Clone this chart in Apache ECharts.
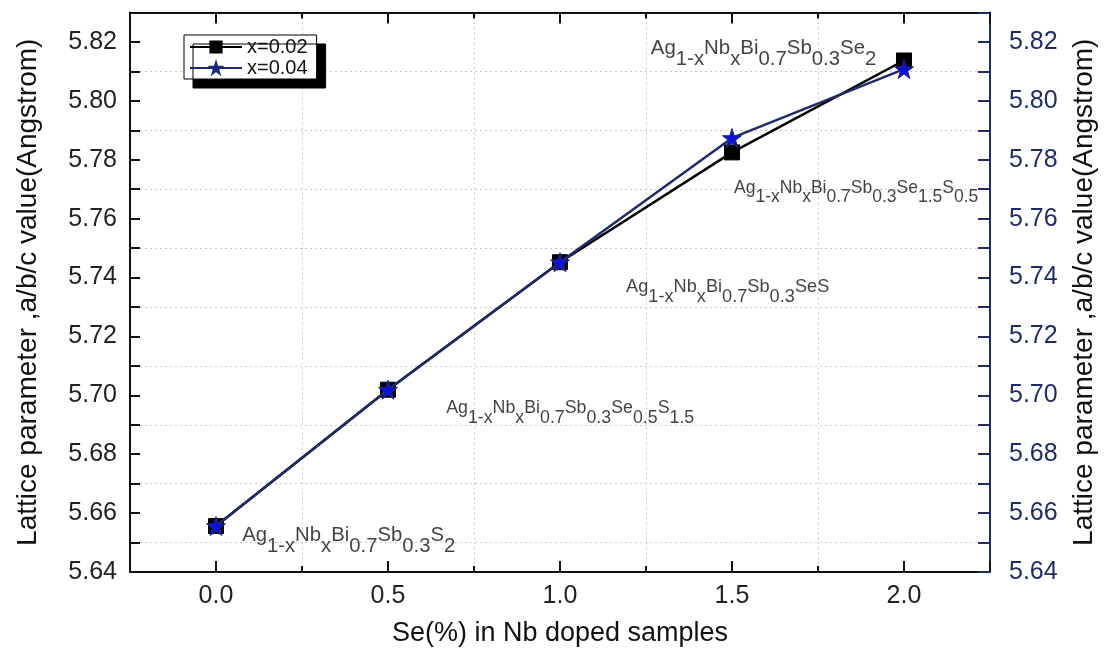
<!DOCTYPE html>
<html>
<head>
<meta charset="utf-8">
<script src="https://cdn.jsdelivr.net/npm/echarts@6/dist/echarts.min.js"></script>
<style>
html,body{margin:0;padding:0;background:#fff;}
#chart{width:1106px;height:652px;}
</style>
</head>
<body>
<div id="chart"></div>
<script>
// ---- data ----
const xValues = [0.0, 0.5, 1.0, 1.5, 2.0];
const seriesNames = ['x=0.02', 'x=0.04'];
const latticeX002 = [5.6556, 5.7019, 5.7452, 5.7825, 5.8137];
const latticeX004 = [5.6556, 5.7019, 5.7452, 5.7874, 5.8108];
const annotationFormulas = [
  'Ag_{1-x}Nb_{x}Bi_{0.7}Sb_{0.3}S_{2}',
  'Ag_{1-x}Nb_{x}Bi_{0.7}Sb_{0.3}Se_{0.5}S_{1.5}',
  'Ag_{1-x}Nb_{x}Bi_{0.7}Sb_{0.3}SeS',
  'Ag_{1-x}Nb_{x}Bi_{0.7}Sb_{0.3}Se_{1.5}S_{0.5}',
  'Ag_{1-x}Nb_{x}Bi_{0.7}Sb_{0.3}Se_{2}'
];
const annotationX = [0.076, 0.669, 1.192, 1.506, 1.264];
const annotationY = [5.6524, 5.6957, 5.7366, 5.7705, 5.8179];
const xAxisTitle = 'Se(%) in Nb doped samples';
const yAxisTitle = 'Lattice parameter ,a/b/c value(Angstrom)';

// ---- styles ----
const annotationFontSize = [20.3, 17.8, 18.2, 17.5, 20.4];
const navy = '#1f2a6b';
const starPath = 'path://M100,0 L122.45,69.1 L195.1,69.1 L136.3,111.8 L158.8,180.9 L100,138.2 L41.2,180.9 L63.7,111.8 L4.9,69.1 L77.55,69.1 Z';
const font = 'Liberation Sans, Arial, sans-serif';
const gridColor = '#c9c9c9';

function toRich(f, idx) {
  let out = '';
  const parts = f.split(/(_\{[^}]*\})/).filter(s => s.length);
  parts.forEach(p => {
    if (p.startsWith('_{')) out += '{s' + idx + '|' + p.slice(2, -1) + '}';
    else out += '{e' + idx + '|' + p + '}';
  });
  return out;
}
const rich = {};
annotationFontSize.forEach((fs, i) => {
  const off = Math.round(fs * 0.54);
  rich['e' + i] = {fontFamily: font, fontSize: fs, lineHeight: fs, color: '#111', verticalAlign: 'top'};
  rich['s' + i] = {fontFamily: font, fontSize: fs, lineHeight: fs, color: '#111', verticalAlign: 'top', padding: [off, 0, 0, 0]};
});

const chart = echarts.init(document.getElementById('chart'), null, {renderer: 'canvas'});

const xMin = -0.25, xMax = 2.25;
const yMin = 5.64, yMax = 5.83;

function xLabelFmt(v) {
  const q = Math.round(v * 4);
  if (q % 2 === 0 && v >= -1e-9 && v <= 2 + 1e-9) return v.toFixed(1);
  return '';
}
function yLabelFmt(v) {
  const h = Math.round(v * 100);
  return h % 2 === 0 ? v.toFixed(2) : '';
}
const dotted = {color: gridColor, type: [2, 3], width: 1};

const option = {
  backgroundColor: '#ffffff',
  animation: false,
  grid: {left: 130, right: 114, top: 12.5, bottom: 78, containLabel: false},
  legend: {
    data: seriesNames,
    orient: 'vertical',
    left: 184, top: 35,
    padding: [2, 9, 1, 5],
    itemGap: 1,
    itemWidth: 52, itemHeight: 14,
    backgroundColor: '#ffffff',
    borderColor: '#000', borderWidth: 1,
    shadowColor: '#000', shadowBlur: 0, shadowOffsetX: 9, shadowOffsetY: 9,
    textStyle: {fontFamily: font, fontSize: 20, lineHeight: 20, color: '#111'}
  },
  xAxis: [
    {
      type: 'value', position: 'bottom', min: xMin, max: xMax, splitNumber: 5,
      name: xAxisTitle, nameLocation: 'middle', nameGap: 48,
      nameTextStyle: {fontFamily: font, fontSize: 27, color: '#111'},
      axisLine: {show: true, onZero: false, lineStyle: {color: '#111', width: 2}},
      axisTick: {show: true, inside: true, length: 11, lineStyle: {color: '#111', width: 2}},
      minorTick: {show: true, splitNumber: 2, length: 6, lineStyle: {color: '#111', width: 2}},
      axisLabel: {show: true, margin: 12, formatter: xLabelFmt, fontFamily: font, fontSize: 25, color: '#222'},
      splitLine: {show: false},
      minorSplitLine: {show: true, lineStyle: dotted}
    },
    {
      type: 'value', position: 'top', min: xMin, max: xMax, splitNumber: 5,
      axisLine: {show: true, onZero: false, lineStyle: {color: '#111', width: 2}},
      axisTick: {show: true, inside: true, length: 11, lineStyle: {color: '#111', width: 2}},
      minorTick: {show: true, splitNumber: 2, length: 6, lineStyle: {color: '#111', width: 2}},
      axisLabel: {show: false}, splitLine: {show: false}
    }
  ],
  yAxis: [
    {
      type: 'value', position: 'left', min: yMin, max: yMax, splitNumber: 10,
      name: yAxisTitle, nameLocation: 'middle', nameGap: 88, nameRotate: 90,
      nameTextStyle: {fontFamily: font, fontSize: 28, color: '#111'},
      axisLine: {show: true, onZero: false, lineStyle: {color: '#111', width: 2}},
      axisTick: {show: true, inside: true, length: 10, lineStyle: {color: '#111', width: 2}},
      minorTick: {show: true, splitNumber: 2, length: 10, lineStyle: {color: '#111', width: 2}},
      axisLabel: {show: true, margin: 13, formatter: yLabelFmt, fontFamily: font, fontSize: 25, color: '#222'},
      splitLine: {show: false},
      minorSplitLine: {show: true, lineStyle: dotted}
    },
    {
      type: 'value', position: 'right', min: yMin, max: yMax, splitNumber: 10,
      name: yAxisTitle, nameLocation: 'middle', nameGap: 80, nameRotate: 90,
      nameTextStyle: {fontFamily: font, fontSize: 28, color: '#111'},
      axisLine: {show: true, onZero: false, lineStyle: {color: navy, width: 2}},
      axisTick: {show: true, inside: true, length: 12, lineStyle: {color: navy, width: 2}},
      minorTick: {show: true, splitNumber: 2, length: 12, lineStyle: {color: navy, width: 2}},
      axisLabel: {show: true, margin: 19, formatter: yLabelFmt, fontFamily: font, fontSize: 25, color: navy},
      splitLine: {show: false}
    }
  ],
  series: [
    {
      name: seriesNames[0], type: 'line', xAxisIndex: 0, yAxisIndex: 0,
      data: xValues.map((x, i) => [x, latticeX002[i]]),
      symbol: 'rect', symbolSize: 15,
      lineStyle: {color: '#000', width: 2.5},
      itemStyle: {color: '#000', borderColor: '#000', borderWidth: 1},
      z: 3
    },
    {
      name: seriesNames[1], type: 'line', xAxisIndex: 0, yAxisIndex: 0,
      data: xValues.map((x, i) => [x, latticeX004[i]]),
      symbol: starPath, symbolSize: 19,
      lineStyle: {color: navy, width: 2.5},
      itemStyle: {color: '#0c12d8', borderColor: navy, borderWidth: 1},
      z: 4
    },
    {
      name: 'annotations', type: 'scatter', xAxisIndex: 0, yAxisIndex: 0,
      data: annotationX.map((x, i) => ({value: [x, annotationY[i]], idx: i})),
      symbolSize: 0, silent: true, z: 5,
      label: {
        show: true, position: 'right', distance: 0,
        formatter: p => toRich(annotationFormulas[p.data.idx], p.data.idx),
        rich: rich
      }
    }
  ]
};
chart.setOption(option);
</script>
</body>
</html>
